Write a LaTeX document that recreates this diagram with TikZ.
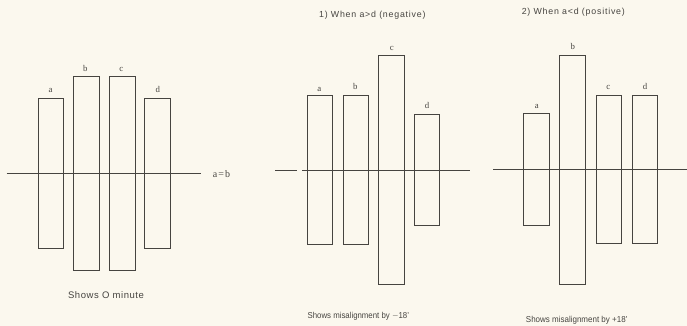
\documentclass[tikz,border=0pt]{standalone}
\usepackage{fontspec}
\setmainfont{Liberation Sans}
\newfontfamily\lblfont{Liberation Serif}
\newfontfamily\titlefont[LetterSpace=9]{Liberation Sans}
\newfontfamily\minfont[LetterSpace=6]{Liberation Sans}
\newfontfamily\eqfont[LetterSpace=12]{Liberation Serif}
\definecolor{paper}{RGB}{251,248,238}
\definecolor{ink}{RGB}{70,68,64}
\tikzset{
  bar/.style={draw=ink, line width=0.6pt, inner sep=0pt, minimum width=25.5pt},
  lbl/.style={text=ink, font=\lblfont\fontsize{8.8}{9}\selectfont, inner sep=0pt, anchor=base},
  captext/.style={text=ink, font=\fontsize{8.6}{9}\selectfont, inner sep=0pt},
  titletext/.style={text=ink, font=\titlefont\fontsize{8.8}{10}\selectfont, inner sep=0pt},
  axis/.style={draw=ink, line width=0.6pt}
}
\begin{document}
\begin{tikzpicture}[x=1pt,y=-1pt]
\fill[paper] (0,0) rectangle (687,326);
\useasboundingbox (0,0) rectangle (687,326);
% Panel 1
\node[bar, minimum height=149.6pt] (a1) at (50.7,173.5) {};
\node[bar, minimum height=193.3pt] (b1) at (86.3,173.4) {};
\node[bar, minimum height=193.3pt] (c1) at (122.3,173.4) {};
\node[bar, minimum height=149.6pt] (d1) at (157.5,173.5) {};
\node[lbl] (la1) at (50.7,92.8) {a};
\node[lbl] (lb1) at (85.3,71.2) {b};
\node[lbl] (lc1) at (121.3,71.2) {c};
\node[lbl] (ld1) at (157.7,92.8) {d};
\coordinate (l1s) at (6.7,173.7);
\coordinate (l1e) at (201,173.7);
\draw[axis] (l1s) -- (l1e);
\node[text=ink, inner sep=0pt, font=\eqfont\fontsize{10}{10}\selectfont] (eq1) at (221.5,173.7) {a=b};
\node[text=ink, inner sep=0pt, font=\minfont\fontsize{9.5}{11}\selectfont] (cap1) at (106,295) {Shows O minute};
% Panel 2
\node[titletext] (t2) at (372.3,15) {1) When a>d (negative)};
\node[bar, minimum height=148.3pt] (a2) at (319.7,169.8) {};
\node[bar, minimum height=148.3pt] (b2) at (355.7,169.8) {};
\node[bar, minimum height=228.6pt] (c2) at (391.2,170) {};
\node[bar, minimum height=111.3pt] (d2) at (426.8,169.7) {};
\node[lbl] (la2) at (319.3,91.3) {a};
\node[lbl] (lb2) at (355.3,90) {b};
\node[lbl] (lc2) at (391.7,50.2) {c};
\node[lbl] (ld2) at (427,108.2) {d};
\coordinate (l2s) at (275,170);
\coordinate (l2m) at (297,170);
\coordinate (l2n) at (302,170);
\coordinate (l2e) at (470,170);
\draw[axis] (l2s) -- (l2m);
\draw[axis] (l2n) -- (l2e);
\node[captext] (cap2) at (358.3,316) {\scalebox{0.91}[1]{Shows misalignment by $-$18'}};
% Panel 3
\node[titletext] (t3) at (573.3,12.7) {2) When a<d (positive)};
\node[bar, minimum height=111.3pt] (a3) at (536.5,169.3) {};
\node[bar, minimum height=228.7pt] (b3) at (572.2,169.7) {};
\node[bar, minimum height=148pt] (c3) at (608.7,169.3) {};
\node[bar, minimum height=148pt] (d3) at (644.8,169.3) {};
\node[lbl] (la3) at (536.7,108.2) {a};
\node[lbl] (lb3) at (572.7,49.6) {b};
\node[lbl] (lc3) at (608.3,90) {c};
\node[lbl] (ld3) at (645,90) {d};
\coordinate (l3s) at (493.3,169.3);
\coordinate (l3e) at (687,169.3);
\draw[axis] (l3s) -- (l3e);
\node[captext] (cap3) at (576.7,320.7) {\scalebox{0.93}[1]{Shows misalignment by +18'}};
\end{tikzpicture}
\end{document}
